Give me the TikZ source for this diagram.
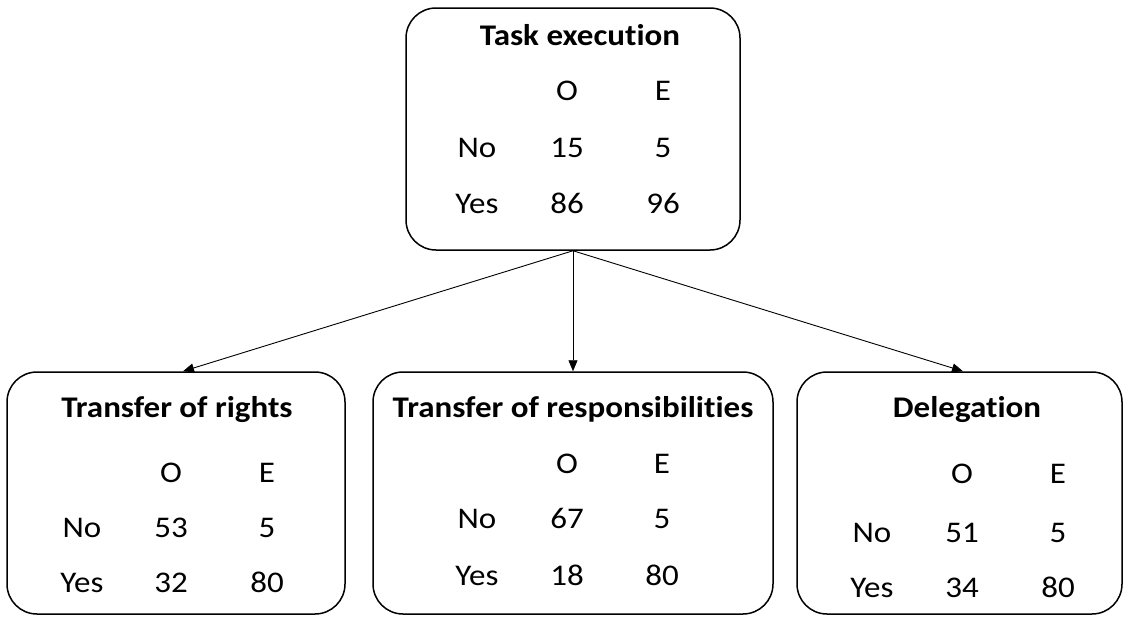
\documentclass[tikz,border=0pt]{standalone}
\usepackage{fontspec}
\setmainfont{Carlito}[Ligatures=NoCommon,FakeStretch=1.1]
\usetikzlibrary{arrows.meta}
\begin{document}
\begin{tikzpicture}[x=1pt,y=-1pt,
  box/.style={draw,line width=1.5pt,rounded corners=30pt,minimum height=242pt,inner sep=0pt},
  txt/.style={anchor=base,inner sep=0pt,font=\fontsize{30}{34}\selectfont},
  ttl/.style={anchor=base,inner sep=0pt,font=\fontsize{30}{34}\selectfont\bfseries},
  conn/.style={line width=0.9pt,-{Triangle[length=11pt,width=9pt]}}]
\useasboundingbox (0,0) rectangle (1130,616);
% boxes
\node[box,minimum width=334pt] (top) at (573,129) {};
\node[box,minimum width=338pt] (left) at (176,493) {};
\node[box,minimum width=400pt] (mid) at (573,493) {};
\node[box,minimum width=325pt] (right) at (959.5,493) {};
% connectors
\draw[conn] (top.south) -- ([xshift=7pt]left.north);
\draw[conn] (top.south) -- (mid.north);
\draw[conn] (top.south) -- ([xshift=3.5pt]right.north);
% top box text
\node[ttl] (t0) at (580,45) {Task execution};
\node[txt] (tO) at (567,100) {O};
\node[txt] (tE) at (663,100) {E};
\node[txt] (tN) at (477,157) {No};
\node[txt] (tY) at (477,213) {Yes};
\node[txt] (tN1) at (567,157) {15};
\node[txt] (tN2) at (663,157) {5};
\node[txt] (tY1) at (567,213) {86};
\node[txt] (tY2) at (663,213) {96};
% left box text
\node[ttl] (l0) at (177,417) {Transfer of rights};
\node[txt] (lO) at (171,482) {O};
\node[txt] (lE) at (267,482) {E};
\node[txt] (lN) at (82,537) {No};
\node[txt] (lY) at (82,592) {Yes};
\node[txt] (lN1) at (171,537) {53};
\node[txt] (lN2) at (267,537) {5};
\node[txt] (lY1) at (171,592) {32};
\node[txt] (lY2) at (267,592) {80};
% middle box text
\node[ttl] (m0) at (573,417) {Transfer of responsibilities};
\node[txt] (mO) at (567,473) {O};
\node[txt] (mE) at (662,473) {E};
\node[txt] (mN) at (477,528) {No};
\node[txt] (mY) at (477,585) {Yes};
\node[txt] (mN1) at (567,528) {67};
\node[txt] (mN2) at (662,528) {5};
\node[txt] (mY1) at (567,585) {18};
\node[txt] (mY2) at (662,585) {80};
% right box text
\node[ttl] (r0) at (967,417) {Delegation};
\node[txt] (rO) at (962,483) {O};
\node[txt] (rE) at (1058,483) {E};
\node[txt] (rN) at (872,542) {No};
\node[txt] (rY) at (872,597) {Yes};
\node[txt] (rN1) at (962,542) {51};
\node[txt] (rN2) at (1058,542) {5};
\node[txt] (rY1) at (962,597) {34};
\node[txt] (rY2) at (1058,597) {80};
\end{tikzpicture}
\end{document}
